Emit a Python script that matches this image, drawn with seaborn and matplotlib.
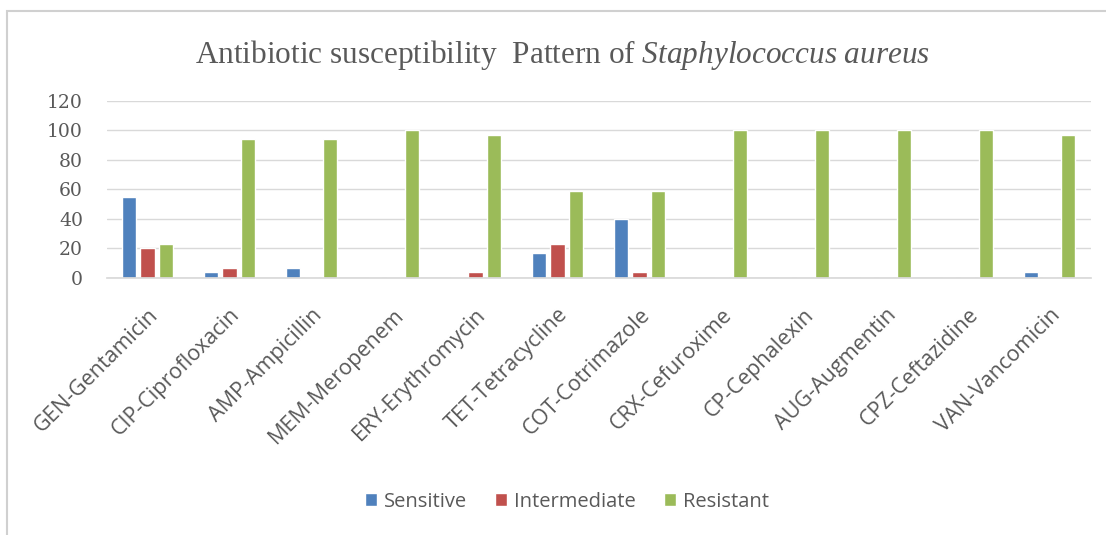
import numpy as np
import pandas as pd
import matplotlib
matplotlib.use("Agg")
import matplotlib.pyplot as plt
from matplotlib.patches import Rectangle
import seaborn as sns

antibiotics = ["GEN-Gentamicin", "CIP-Ciprofloxacin", "AMP-Ampicillin", "MEM-Meropenem",
               "ERY-Erythromycin", "TET-Tetracycline", "COT-Cotrimazole", "CRX-Cefuroxime",
               "CP-Cephalexin", "AUG-Augmentin", "CPZ-Ceftazidine", "VAN-Vancomicin"]
sensitive = [55, 4, 7, 0, 0, 17, 40, 0, 0, 0, 0, 4]
intermediate = [20, 7, 0, 0, 4, 23, 4, 0, 0, 0, 0, 0]
resistant = [23, 94, 94, 100, 97, 59, 59, 100, 100, 100, 100, 97]
series_names = ["Sensitive", "Intermediate", "Resistant"]
colors = ["#4F81BD", "#C0504D", "#9BBB59"]

df = pd.DataFrame({"antibiotic": antibiotics, "Sensitive": sensitive,
                   "Intermediate": intermediate, "Resistant": resistant})
long_df = df.melt(id_vars="antibiotic", var_name="result", value_name="percent")

sns.set_theme(style="white")
plt.rcParams["mathtext.fontset"] = "custom"
plt.rcParams["mathtext.rm"] = "Liberation Serif"
plt.rcParams["mathtext.it"] = "Liberation Serif:italic"

fig = plt.figure(figsize=(11.06, 5.35), dpi=100)
ax = fig.add_axes([0.0963, 0.4804, 0.8897, 0.3312])

sns.barplot(data=long_df, x="antibiotic", y="percent", hue="result",
            hue_order=series_names, palette=colors, width=0.677, gap=0.24,
            saturation=1, ax=ax)

ax.set_ylim(0, 120)
ax.set_xlim(-0.5, len(antibiotics) - 0.5)
ax.set_yticks(range(0, 121, 20))
ax.yaxis.grid(True, color="#D9D9D9", linewidth=1)
ax.set_axisbelow(True)
for side in ["top", "right", "left"]:
    ax.spines[side].set_visible(False)
ax.spines["bottom"].set_color("#D9D9D9")
ax.set_xlabel("")
ax.set_ylabel("")
ax.tick_params(axis="both", length=0)
ax.tick_params(axis="y", pad=17)
for lab in ax.get_yticklabels():
    lab.set_fontfamily("DejaVu Serif")
    lab.set_fontsize(13.5)
    lab.set_color("#595959")
ax.set_xticks(range(len(antibiotics)))
ax.set_xticklabels(antibiotics, rotation=45, ha="right", rotation_mode="anchor",
                   fontsize=15.5, color="#595959", family="Open Sans")
ax.tick_params(axis="x", pad=19)

fig.text(0.509, 0.897,
         r"Antibiotic susceptibility  Pattern of $\mathit{Staphylococcus\ aureus}$",
         ha="center", va="center", fontsize=22.5, color="#595959",
         family="Liberation Serif")

handles, labels = ax.get_legend_handles_labels()
ax.legend(handles, labels, loc="center", bbox_to_anchor=(0.5127, 0.0617),
          bbox_transform=fig.transFigure, ncol=3, frameon=False,
          handlelength=0.6, handleheight=0.6, handletextpad=0.35,
          columnspacing=1.4, prop={"family": "Open Sans", "size": 14.5},
          labelcolor="#595959")

fig.patches.append(Rectangle((0.0065, -0.1), 1.2, 1.08, transform=fig.transFigure,
                             fill=False, edgecolor="#D0D0D0", linewidth=1.5))

fig.savefig("out.png", dpi=100)
